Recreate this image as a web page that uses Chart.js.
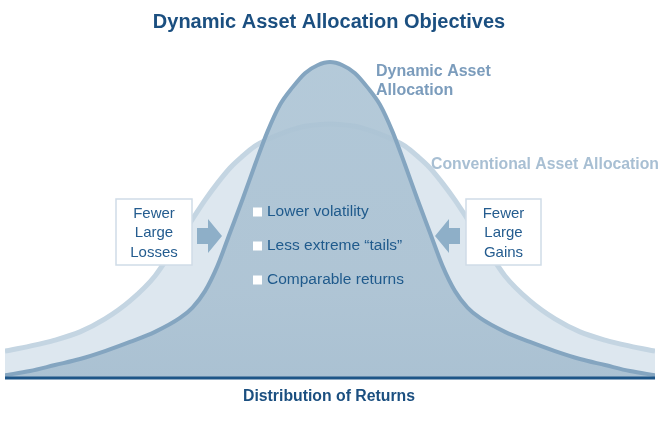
<!DOCTYPE html>
<html lang="en">
<head>
<meta charset="UTF-8" />
<title>Dynamic Asset Allocation Objectives</title>
<script src="https://cdn.jsdelivr.net/npm/chart.js"></script>
<style>
  html, body { margin: 0; padding: 0; background: #fff; }
</style>
</head>
<body>
<canvas id="curvas" width="666" height="422"></canvas>

<script>
  // eixo x: retornos (unidades arbitrarias), y: frequencia relativa
  const retornos = [-13, -12, -11, -10, -9, -8, -7, -6, -5.5, -5, -4.5, -4, -3.5, -3, -2.5, -2, -1.5, -1, -0.5, 0,
                    0.5, 1, 1.5, 2, 2.5, 3, 3.5, 4, 4.5, 5, 5.5, 6, 7, 8, 9, 10, 11, 12, 13];
  const dinamica = [0.9, 2.2, 4.1, 6.0, 8.5, 11.4, 14.6, 19.0, 22.3, 27.5, 35.5, 46.0, 56.5, 67.5, 78.0, 86.5, 92.0, 96.5, 99.0, 100,
                    99.0, 96.5, 92.0, 86.5, 78.0, 67.5, 56.5, 46.0, 35.5, 27.5, 22.3, 19.0, 14.6, 11.4, 8.5, 6.0, 4.1, 2.2, 0.9];
  const convencional = [8.5, 10.1, 12.0, 14.6, 18.7, 24.4, 32.3, 44.3, 50.3, 56.3, 61.7, 66.5, 70.2, 73.4, 75.5, 77.2, 78.6, 79.7, 80.2, 80.4,
                        80.2, 79.7, 78.6, 77.2, 75.5, 73.4, 70.2, 66.5, 61.7, 56.3, 50.3, 44.3, 32.3, 24.4, 18.7, 14.6, 12.0, 10.1, 8.5];

  const titulo = 'Dynamic Asset Allocation Objectives';
  const tituloEixo = 'Distribution of Returns';
  const rotuloDinamica = ['Dynamic Asset', 'Allocation'];
  const rotuloConvencional = 'Conventional Asset Allocation';
  const caixaEsq = ['Fewer', 'Large', 'Losses'];
  const caixaDir = ['Fewer', 'Large', 'Gains'];
  const topicos = ['Lower volatility', 'Less extreme \u201Ctails\u201D', 'Comparable returns'];

  const FONTE = '"Liberation Sans", Arial, Helvetica, sans-serif';

  function pontos(vals) {
    return retornos.map((r, i) => ({ x: r, y: vals[i] }));
  }

  function texto(ctx, t, x, y, font, cor, align, maxW) {
    ctx.font = font;
    ctx.fillStyle = cor;
    ctx.textAlign = align || 'left';
    ctx.textBaseline = 'middle';
    if (maxW) ctx.fillText(t, x, y, maxW);
    else ctx.fillText(t, x, y);
  }

  function caixa(ctx, x, y, w, h, linhas) {
    ctx.fillStyle = '#ffffff';
    ctx.fillRect(x, y, w, h);
    ctx.strokeStyle = '#cfdce7';
    ctx.lineWidth = 1.5;
    ctx.strokeRect(x, y, w, h);
    linhas.forEach((l, i) => {
      texto(ctx, l, x + w / 2, y + 14.5 + i * 19.5, '15px ' + FONTE, '#245c8f', 'center');
    });
  }

  function seta(ctx, x0, cy, dir) {
    // dir = 1 aponta para a direita, -1 para a esquerda
    ctx.fillStyle = '#8eafc8';
    ctx.beginPath();
    ctx.moveTo(x0, cy - 8);
    ctx.lineTo(x0 + dir * 11, cy - 8);
    ctx.lineTo(x0 + dir * 11, cy - 17);
    ctx.lineTo(x0 + dir * 25, cy);
    ctx.lineTo(x0 + dir * 11, cy + 17);
    ctx.lineTo(x0 + dir * 11, cy + 8);
    ctx.lineTo(x0, cy + 8);
    ctx.closePath();
    ctx.fill();
  }

  // preenchimento da curva dinamica um pouco mais escuro perto da base
  function gradienteDinamica(context) {
    const chart = context.chart;
    const area = chart.chartArea;
    if (!area) return 'rgba(171, 194, 211, 0.9)';
    const g = chart.ctx.createLinearGradient(0, area.top, 0, area.bottom);
    g.addColorStop(0, 'rgba(172, 196, 213, 0.9)');
    g.addColorStop(0.75, 'rgba(170, 193, 210, 0.9)');
    g.addColorStop(1, 'rgba(166, 190, 208, 0.92)');
    return g;
  }

  const anotacoes = {
    id: 'anotacoes',
    afterDraw(chart) {
      const ctx = chart.ctx;
      const area = chart.chartArea;
      const yBase = chart.scales.y.getPixelForValue(0);
      ctx.save();

      // linha base
      ctx.strokeStyle = '#1d5587';
      ctx.lineWidth = 3;
      ctx.beginPath();
      ctx.moveTo(area.left, yBase);
      ctx.lineTo(area.right, yBase);
      ctx.stroke();

      texto(ctx, titulo, 329, 22, 'bold 20px ' + FONTE, '#1b4f80', 'center', 353);
      texto(ctx, tituloEixo, 329, 397, 'bold 16px ' + FONTE, '#1b4f80', 'center', 172);

      texto(ctx, rotuloDinamica[0], 376, 72, 'bold 16px ' + FONTE, '#7b9cbc', 'left', 115);
      texto(ctx, rotuloDinamica[1], 376, 91, 'bold 16px ' + FONTE, '#7b9cbc', 'left');
      texto(ctx, rotuloConvencional, 431, 165, 'bold 16px ' + FONTE, '#a8bfd3', 'left', 228);

      caixa(ctx, 116, 199, 76, 66, caixaEsq);
      caixa(ctx, 466, 199, 75, 66, caixaDir);
      seta(ctx, 197, 236, 1);
      seta(ctx, 460, 236, -1);

      topicos.forEach((t, i) => {
        const cy = [212, 246, 280][i];
        ctx.fillStyle = '#ffffff';
        ctx.fillRect(253, cy - 4.5, 9, 9);
        texto(ctx, t, 267, cy, '15.5px ' + FONTE, '#1f5a8c', 'left');
      });

      ctx.restore();
    }
  };

  new Chart(document.getElementById('curvas'), {
    type: 'line',
    data: {
      datasets: [{
        label: 'Dynamic Asset Allocation',
        data: pontos(dinamica),
        borderColor: '#84a5c0',
        backgroundColor: gradienteDinamica,
        borderWidth: 4,
        fill: 'origin',
        pointRadius: 0,
        cubicInterpolationMode: 'monotone'
      }, {
        label: 'Conventional Asset Allocation',
        data: pontos(convencional),
        borderColor: '#c4d5e2',
        backgroundColor: '#dde7ef',
        borderWidth: 5,
        fill: 'origin',
        pointRadius: 0,
        cubicInterpolationMode: 'monotone'
      }]
    },
    options: {
      responsive: false,
      animation: false,
      layout: { padding: { top: 40, bottom: 44, left: 5, right: 11 } },
      scales: {
        x: { type: 'linear', min: -13, max: 13, display: false },
        y: { min: 0, max: 107, display: false }
      },
      plugins: {
        legend: { display: false },
        tooltip: { enabled: false }
      }
    },
    plugins: [anotacoes]
  });
</script>
</body>
</html>
